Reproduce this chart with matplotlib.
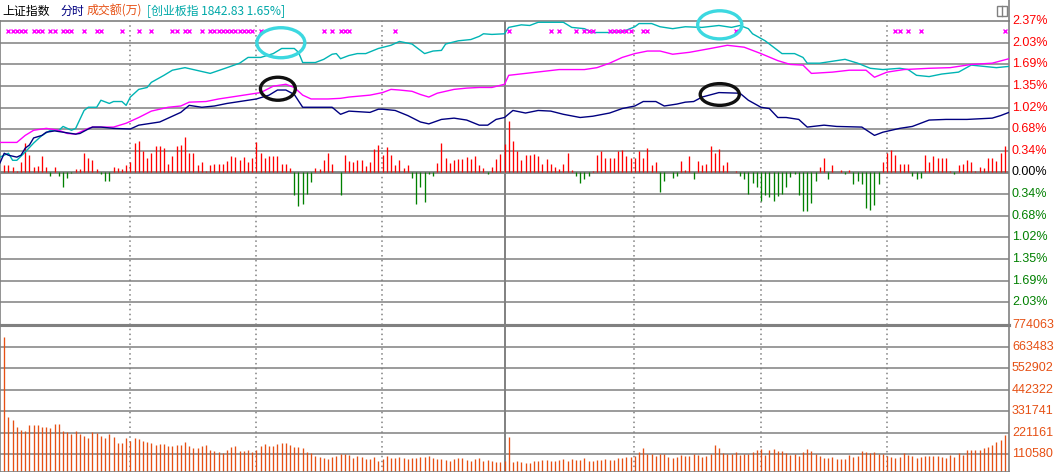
import matplotlib.pyplot as plt
import numpy as np
from matplotlib.patches import Ellipse, Rectangle
from matplotlib.lines import Line2D

plt.rcParams['font.family'] = ['Noto Sans CJK SC', 'DejaVu Sans']

W, H = 1057, 472

# x axis = minute of the session (0 = open, 240 = close)
# 上证指数 price line, % change
navy_t = [0, 1, 2, 4, 5, 6, 7, 8, 10, 11, 13, 15, 18, 19, 21, 22, 24, 27, 31, 33,
          36, 38, 40, 43, 45, 48, 51, 54, 57, 61, 64, 66, 68, 70, 72, 75, 79, 81, 83, 88,
          90, 91, 94, 97, 100, 102, 105, 108, 111, 114, 116, 118, 120, 122, 125, 128, 131, 134, 138, 141,
          145, 148, 151, 153, 156, 158, 161, 163, 165, 167, 171, 176, 178, 181, 183, 185, 187, 190, 192, 196,
          199, 205, 208, 210, 214, 217, 221, 225, 230, 236, 238, 240]
navy_v = [0.15, 0.30, 0.27, 0.24, 0.27, 0.38, 0.43, 0.54, 0.58, 0.63, 0.65, 0.63, 0.60, 0.61, 0.68, 0.71, 0.71, 0.69, 0.68, 0.74,
          0.77, 0.79, 0.85, 0.94, 1.05, 1.02, 1.04, 1.08, 1.11, 1.15, 1.21, 1.29, 1.29, 1.22, 1.02, 1.02, 1.02, 0.91, 0.96, 0.94,
          0.99, 0.99, 0.97, 0.89, 0.79, 0.76, 0.83, 0.85, 0.82, 0.74, 0.74, 0.83, 0.86, 0.97, 0.93, 0.97, 0.96, 0.91, 0.86, 0.88,
          0.93, 1.00, 1.04, 1.11, 1.11, 1.04, 1.07, 1.10, 1.11, 1.18, 1.25, 1.24, 1.13, 1.02, 1.00, 0.86, 0.86, 0.83, 0.71, 0.74,
          0.72, 0.71, 0.58, 0.63, 0.69, 0.72, 0.82, 0.83, 0.83, 0.85, 0.89, 0.94]

# average line, % change
mag_t = [0, 4, 6, 8, 11, 14, 16, 18, 21, 22, 24, 27, 30, 33, 36, 40, 43, 45, 49, 52,
         55, 59, 62, 65, 68, 70, 72, 74, 78, 81, 83, 88, 91, 93, 95, 98, 100, 102, 104, 108,
         111, 114, 117, 120, 121, 125, 129, 133, 139, 142, 145, 148, 151, 154, 157, 160, 164, 169, 173, 177,
         181, 185, 188, 191, 193, 198, 202, 206, 208, 211, 215, 221, 226, 231, 236, 240]
mag_v = [0.47, 0.47, 0.58, 0.66, 0.69, 0.66, 0.61, 0.60, 0.69, 0.71, 0.71, 0.71, 0.77, 0.86, 0.96, 1.02, 1.04, 1.10, 1.11, 1.15,
         1.18, 1.22, 1.25, 1.35, 1.38, 1.33, 1.21, 1.15, 1.15, 1.16, 1.18, 1.21, 1.25, 1.30, 1.29, 1.27, 1.22, 1.18, 1.24, 1.30,
         1.32, 1.33, 1.33, 1.38, 1.52, 1.55, 1.58, 1.61, 1.61, 1.64, 1.71, 1.80, 1.86, 1.90, 1.90, 1.85, 1.88, 1.94, 1.99, 1.96,
         1.86, 1.75, 1.69, 1.68, 1.55, 1.57, 1.60, 1.60, 1.49, 1.57, 1.61, 1.63, 1.64, 1.69, 1.71, 1.78]

# 创业板指 overlay, % change
cyan_t = [0, 2, 3, 4, 6, 8, 10, 12, 14, 15, 17, 18, 20, 21, 23, 24, 26, 27, 29, 30,
          31, 33, 35, 36, 39, 41, 44, 46, 50, 54, 57, 59, 62, 65, 67, 70, 71, 72, 75, 77,
          79, 80, 81, 83, 85, 87, 90, 93, 95, 98, 99, 101, 103, 105, 106, 109, 112, 114, 115, 117,
          120, 121, 124, 126, 128, 134, 136, 139, 141, 145, 148, 151, 152, 155, 157, 160, 163, 167, 171, 174,
          176, 178, 179, 182, 184, 186, 189, 191, 192, 195, 198, 201, 204, 207, 210, 214, 216, 218, 221, 224,
          228, 231, 234, 237, 240]
cyan_v = [0.24, 0.30, 0.19, 0.19, 0.32, 0.46, 0.58, 0.66, 0.66, 0.72, 0.66, 0.69, 0.97, 1.02, 1.02, 1.13, 1.08, 1.11, 1.11, 1.05,
          1.18, 1.30, 1.33, 1.41, 1.52, 1.60, 1.64, 1.61, 1.55, 1.64, 1.71, 1.80, 1.80, 1.86, 1.94, 1.94, 1.88, 1.72, 1.72, 1.77,
          1.85, 1.86, 1.78, 1.83, 1.86, 1.86, 1.94, 1.99, 2.05, 2.01, 1.96, 1.86, 1.90, 1.91, 2.01, 2.06, 2.08, 2.13, 2.17, 2.16,
          2.17, 2.27, 2.31, 2.30, 2.35, 2.35, 2.27, 2.25, 2.19, 2.19, 2.20, 2.28, 2.33, 2.33, 2.28, 2.25, 2.28, 2.27, 2.30, 2.27,
          2.30, 2.25, 2.17, 2.06, 1.96, 1.86, 1.86, 1.80, 1.71, 1.71, 1.74, 1.77, 1.71, 1.63, 1.61, 1.63, 1.61, 1.52, 1.50, 1.54,
          1.57, 1.68, 1.66, 1.64, 1.66]

# red / green bars around the zero line, minutes 1..240
lead = [0.11, 0.11, 0.09, 0.03, 0.17, 0.46, 0.27, 0.09, 0.10, 0.26,
        0.09, -0.05, 0.09, -0.05, -0.22, -0.09, -0.01, 0.05, 0.05, 0.31,
        0.23, 0.19, 0.05, -0.02, -0.13, -0.13, 0.08, 0.07, 0.05, 0.11,
        0.16, 0.46, 0.50, 0.34, 0.23, 0.31, 0.41, 0.41, 0.39, 0.14,
        0.26, 0.41, 0.43, 0.56, 0.31, 0.31, 0.11, 0.17, 0.03, 0.11,
        0.13, 0.14, 0.13, 0.18, 0.26, 0.24, 0.19, 0.24, 0.16, 0.22,
        0.48, 0.31, 0.23, 0.25, 0.25, 0.25, 0.14, 0.14, 0.07, -0.36,
        -0.52, -0.50, -0.34, -0.15, 0.07, 0.05, 0.19, 0.31, 0.14, 0.00,
        -0.36, 0.27, 0.18, 0.16, 0.19, 0.19, 0.10, 0.16, 0.36, 0.43,
        0.27, 0.40, 0.27, 0.11, 0.19, 0.07, 0.11, -0.08, -0.50, -0.22,
        -0.47, -0.03, -0.05, 0.15, 0.46, 0.23, 0.15, 0.19, 0.21, 0.21,
        0.24, 0.21, 0.26, 0.11, 0.07, -0.03, 0.09, 0.21, 0.29, 0.45,
        0.81, 0.50, 0.34, 0.20, 0.28, 0.28, 0.29, 0.26, 0.14, 0.21,
        0.14, 0.09, 0.06, 0.14, 0.31, 0.04, -0.06, -0.16, -0.11, -0.05,
        0.03, 0.27, 0.33, 0.23, 0.23, 0.22, 0.33, 0.35, 0.26, 0.23,
        0.23, 0.33, 0.23, 0.39, 0.11, 0.16, -0.30, -0.14, 0.00, -0.09,
        -0.06, 0.18, 0.04, 0.25, -0.10, 0.18, 0.12, 0.14, 0.42, 0.31,
        0.37, 0.11, 0.17, 0.00, 0.03, -0.05, -0.10, -0.34, -0.16, -0.23,
        -0.45, -0.35, -0.39, -0.44, -0.37, -0.34, -0.22, -0.07, -0.02, -0.36,
        -0.61, -0.61, -0.48, -0.14, 0.09, 0.23, -0.10, 0.12, 0.00, 0.04,
        -0.02, 0.04, -0.18, -0.14, -0.18, -0.56, -0.59, -0.51, -0.18, 0.17,
        0.31, 0.35, 0.28, 0.14, 0.14, 0.14, -0.05, -0.10, -0.08, 0.28,
        0.16, 0.26, 0.22, 0.22, 0.22, 0.03, -0.02, 0.11, 0.14, 0.20,
        0.17, 0.03, 0.09, 0.07, 0.23, 0.23, 0.18, 0.31, 0.42, -0.02]

# 成交额 (万), in thousands, minutes 1..240
vol_k = [714, 304, 288, 253, 236, 230, 261, 261, 261, 251,
         251, 246, 266, 266, 230, 224, 215, 230, 215, 205,
         194, 224, 220, 205, 194, 215, 200, 169, 169, 194,
         179, 194, 189, 179, 174, 169, 159, 164, 164, 153,
         153, 159, 159, 174, 153, 143, 143, 153, 159, 133,
         128, 123, 118, 133, 148, 153, 128, 128, 133, 123,
         133, 153, 164, 153, 153, 164, 169, 169, 159, 148,
         148, 143, 123, 118, 102, 97, 92, 87, 97, 102,
         111, 111, 107, 92, 102, 97, 87, 87, 97, 76,
         87, 102, 92, 92, 97, 92, 87, 92, 92, 97,
         97, 102, 92, 87, 87, 82, 76, 87, 92, 92,
         82, 76, 87, 92, 76, 82, 76, 71, 71, 76,
         200, 71, 76, 71, 66, 66, 76, 76, 82, 82,
         76, 76, 82, 87, 76, 87, 82, 82, 92, 76,
         76, 82, 82, 87, 82, 82, 92, 92, 97, 97,
         102, 123, 143, 112, 112, 102, 112, 112, 97, 92,
         97, 107, 102, 102, 112, 107, 97, 102, 112, 159,
         143, 118, 112, 112, 123, 107, 112, 112, 123, 133,
         138, 107, 133, 138, 128, 128, 118, 107, 112, 102,
         123, 138, 128, 112, 102, 92, 92, 97, 87, 87,
         87, 107, 97, 102, 128, 123, 118, 123, 112, 112,
         102, 97, 92, 97, 118, 107, 102, 92, 97, 102,
         102, 102, 102, 97, 92, 107, 97, 118, 107, 133,
         133, 133, 133, 143, 148, 159, 174, 184, 210, 266]

# minutes flagged with a magenta x on the top row
mark_t = [2, 3, 4, 5, 6, 8, 9, 10, 12, 13, 15, 16, 17, 20, 23, 24, 29, 33, 36, 41,
          42, 44, 45, 48, 50, 51, 52, 53, 54, 55, 56, 57, 58, 59, 60, 62, 77, 79, 81, 82,
          83, 94, 121, 131, 133, 137, 139, 140, 141, 145, 146, 147, 148, 149, 150, 153, 154, 175, 213, 214,
          216, 219, 239]

pct_ticks = [0.00, 0.34, 0.68, 1.02, 1.35, 1.69, 2.03, 2.37]
vol_ticks = [110580, 221161, 331741, 442322, 552902, 663483, 774063]

GRID = '#808080'
pct_step = 2.37 / 7
minutes = np.arange(1, 241)
lead = np.array(lead)
vol = np.array(vol_k) * 1000

fig = plt.figure(figsize=(W / 100, H / 100), dpi=100)
ax = fig.add_axes([0, (H - 325) / H, 1009 / W, 304 / H])
axv = fig.add_axes([0, 0, 1009 / W, 147 / H])

for a in (ax, axv):
    a.set_xlim(0, 240)
    a.set_xticks([])
    a.set_yticks([])
    for s in a.spines.values():
        s.set_color(GRID)
        s.set_linewidth(1.2)
    a.axvline(120, color=GRID, lw=1.4, zorder=1)
    for m in [31, 61, 91, 151, 181, 211]:
        a.axvline(m - 0.1, color=GRID, lw=1.1, ls=(0, (1, 2.2)), zorder=1)

ax.set_ylim(-7.05 * pct_step, 2.37)
axv.set_ylim(19763, 774063)

# horizontal grid
for k in range(-6, 7):
    ax.axhline(k * pct_step, color=GRID, lw=2.0 if k == 0 else 1.1, zorder=1)
ax.spines['bottom'].set_linewidth(2.2)
for v in vol_ticks[:-1]:
    axv.axhline(v, color=GRID, lw=1.1, zorder=1)
axv.spines['top'].set_linewidth(2.2)

# red / green bars
up = lead > 0
ax.vlines(minutes[up], 0, lead[up], color='#FF0000', lw=0.95, zorder=2)
ax.vlines(minutes[~up], 0, lead[~up], color='#008000', lw=0.95, zorder=2)

# lines
ax.plot(cyan_t, cyan_v, color='#00B4B4', lw=1.0, zorder=3)
ax.plot(mag_t, mag_v, color='#FF00FF', lw=1.0, zorder=3)
ax.plot(navy_t, navy_v, color='#000080', lw=1.0, zorder=4)

# top markers
ax.plot(mark_t, [2.22] * len(mark_t), ls='none', marker='x', ms=3.2, mew=1.0,
        color='#FF00FF', zorder=3)

# volume
axv.vlines(minutes, 0, vol, color='#E65014', lw=0.95, zorder=2)

# annotation ellipses
for (cx, cy, w, h, c) in [(66.8, 2.03, 11.4, 0.47, '#3CD8E0'),
                          (171.2, 2.31, 10.5, 0.44, '#3CD8E0'),
                          (66.1, 1.31, 8.3, 0.36, '#101010'),
                          (171.2, 1.22, 9.3, 0.34, '#101010')]:
    ax.add_patch(Ellipse((cx, cy), w, h, fill=False, ec=c, lw=2.4,
                         zorder=6, clip_on=False))

# right-hand labels
lab_x = 1012 / 1009
for i, t in enumerate(pct_ticks):
    col = '#000000' if i == 0 else '#FF0000'
    ax.text(lab_x, i * pct_step, f'{t:.2f}%', transform=ax.get_yaxis_transform(),
            ha='left', va='center', fontsize=9, color=col, family='Liberation Sans',
            clip_on=False)
for i, t in enumerate(pct_ticks[1:-1], start=1):
    ax.text(lab_x, -i * pct_step, f'{t:.2f}%', transform=ax.get_yaxis_transform(),
            ha='left', va='center', fontsize=9, color='#008000', family='Liberation Sans',
            clip_on=False)
for v in vol_ticks:
    axv.text(lab_x, v, f'{v}', transform=axv.get_yaxis_transform(),
             ha='left', va='center', fontsize=9, color='#E65014', family='Liberation Sans',
             clip_on=False)

# frame pieces outside the axes
fig.add_artist(Line2D([1009 / W, 1009 / W], [(H - 21) / H, 1], color=GRID, lw=1.2,
                      transform=fig.transFigure))
fig.add_artist(Rectangle((997 / W, (H - 16) / H), 10 / W, 10 / H, fill=False,
                         ec=GRID, lw=1.0, transform=fig.transFigure))
fig.add_artist(Line2D([1002 / W, 1002 / W], [(H - 16) / H, (H - 6) / H], color=GRID,
                      lw=1.0, transform=fig.transFigure))

# title row
ty = (H - 11) / H
fig.text(2 / W, ty, '上证指数', color='#000000', fontsize=8.6, va='center')
fig.text(60 / W, ty, '分时', color='#000080', fontsize=8.6, va='center')
fig.text(87 / W, ty, '成交额(万)', color='#E65014', fontsize=8.6, va='center')
fig.text(147 / W, ty, '[创业板指 1842.83 1.65%]', color='#00A8A8', fontsize=8.6, va='center')

fig.savefig('out.png', dpi=100)
